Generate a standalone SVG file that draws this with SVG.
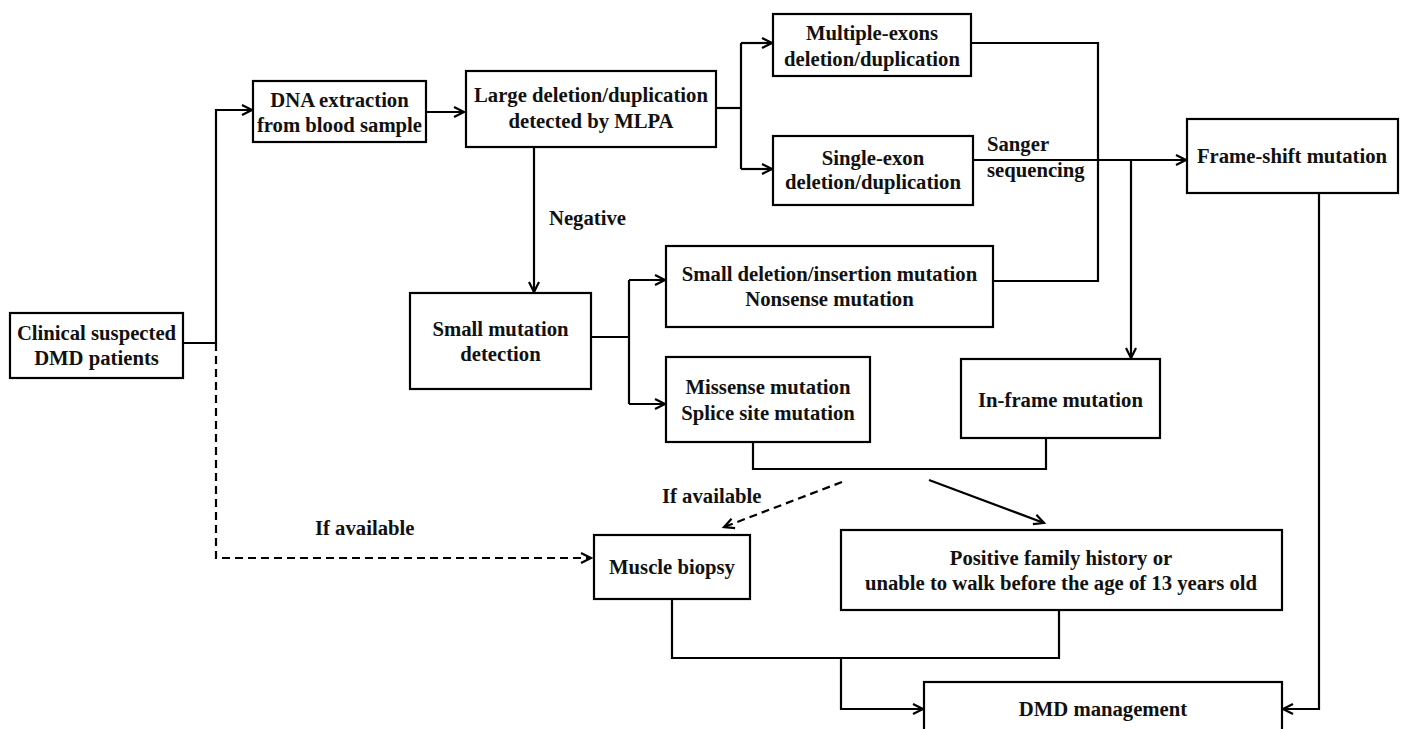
<svg xmlns="http://www.w3.org/2000/svg" width="1405" height="729" viewBox="0 0 1405 729">
<style>
.box{fill:#fff;stroke:#000;stroke-width:2.2}
.t{font-family:"Liberation Serif","Times New Roman",serif;font-weight:bold;font-size:20.7px;fill:#111;text-anchor:middle}
.l{text-anchor:start}
.c{fill:none;stroke:#000;stroke-width:2.2}
.d{stroke-dasharray:8 5}
</style>
<defs>
<marker id="ah" markerUnits="userSpaceOnUse" markerWidth="14" markerHeight="14" refX="11" refY="6" orient="auto" overflow="visible">
<path d="M1,1 L11,6 L1,11" fill="none" stroke="#000" stroke-width="2.2"/>
</marker>
</defs>
<rect width="1405" height="729" fill="#fff"/>
<g id="connectors">
<path class="c" d="M183,343 H216 V110 H252" marker-end="url(#ah)"/>
<path class="c d" d="M216,343 V558 H591" marker-end="url(#ah)"/>
<path class="c" d="M426,112 H464" marker-end="url(#ah)"/>
<path class="c" d="M716,108 H741"/>
<path class="c" d="M741,43 V169"/>
<path class="c" d="M741,43 H772" marker-end="url(#ah)"/>
<path class="c" d="M741,169 H772" marker-end="url(#ah)"/>
<path class="c" d="M534,147 V292" marker-end="url(#ah)"/>
<path class="c" d="M591,337 H629"/>
<path class="c" d="M629,280 V404"/>
<path class="c" d="M629,280 H665" marker-end="url(#ah)"/>
<path class="c" d="M629,404 H665" marker-end="url(#ah)"/>
<path class="c" d="M971,43 H1098 V281 H993"/>
<path class="c" d="M973,160 H1186" marker-end="url(#ah)"/>
<path class="c" d="M1131,160 V358" marker-end="url(#ah)"/>
<path class="c" d="M753,442 V469 H1046 V438"/>
<path class="c d" d="M842,482 L724,527" marker-end="url(#ah)"/>
<path class="c" d="M929,480 L1044,523" marker-end="url(#ah)"/>
<path class="c" d="M672,599 V658 H1059 V610"/>
<path class="c" d="M841,658 V709 H923" marker-end="url(#ah)"/>
<path class="c" d="M1319,193 V709 H1283" marker-end="url(#ah)"/>
</g>
<g id="labels">
<text class="t" x="549" y="225" style="text-anchor:start">Negative</text>
<text class="t l" x="987" y="151">Sanger</text>
<text class="t l" x="987" y="177">sequencing</text>
<text class="t l" x="662" y="503">If available</text>
<text class="t l" x="315" y="535">If available</text>
</g>
<g id="n-clinical">
<rect class="box" x="10" y="313" width="173" height="65"/>
<text class="t" x="96.5" y="340">Clinical suspected</text>
<text class="t" x="96.5" y="365">DMD patients</text>
</g>
<g id="n-dna">
<rect class="box" x="253" y="81" width="173" height="61"/>
<text class="t" x="339.5" y="107">DNA extraction</text>
<text class="t" x="339.5" y="132">from blood sample</text>
</g>
<g id="n-large">
<rect class="box" x="466" y="71" width="250" height="76"/>
<text class="t" x="591" y="102">Large deletion/duplication</text>
<text class="t" x="591" y="128">detected by MLPA</text>
</g>
<g id="n-multiple">
<rect class="box" x="773" y="14" width="198" height="62"/>
<text class="t" x="872" y="40">Multiple-exons</text>
<text class="t" x="872" y="66">deletion/duplication</text>
</g>
<g id="n-single">
<rect class="box" x="773" y="136" width="200" height="69"/>
<text class="t" x="873" y="165">Single-exon</text>
<text class="t" x="873" y="189">deletion/duplication</text>
</g>
<g id="n-frameshift">
<rect class="box" x="1187" y="119" width="211" height="74"/>
<text class="t" x="1292" y="163">Frame-shift mutation</text>
</g>
<g id="n-small">
<rect class="box" x="410" y="293" width="181" height="96"/>
<text class="t" x="500.5" y="336">Small mutation</text>
<text class="t" x="500.5" y="361">detection</text>
</g>
<g id="n-smalldel">
<rect class="box" x="666" y="246" width="327" height="81"/>
<text class="t" x="829.5" y="281">Small deletion/insertion mutation</text>
<text class="t" x="829.5" y="306">Nonsense mutation</text>
</g>
<g id="n-missense">
<rect class="box" x="666" y="357" width="204" height="85"/>
<text class="t" x="768" y="394">Missense mutation</text>
<text class="t" x="768" y="420">Splice site mutation</text>
</g>
<g id="n-inframe">
<rect class="box" x="961" y="359" width="199" height="79"/>
<text class="t" x="1060.5" y="407">In-frame mutation</text>
</g>
<g id="n-muscle">
<rect class="box" x="594" y="535" width="156" height="64"/>
<text class="t" x="672" y="574">Muscle biopsy</text>
</g>
<g id="n-positive">
<rect class="box" x="841" y="530" width="441" height="80"/>
<text class="t" x="1061" y="565">Positive family history or</text>
<text class="t" x="1061" y="590">unable to walk before the age of 13 years old</text>
</g>
<g id="n-dmd">
<rect class="box" x="924" y="682" width="358" height="60"/>
<text class="t" x="1103" y="716">DMD management</text>
</g>
</svg>
